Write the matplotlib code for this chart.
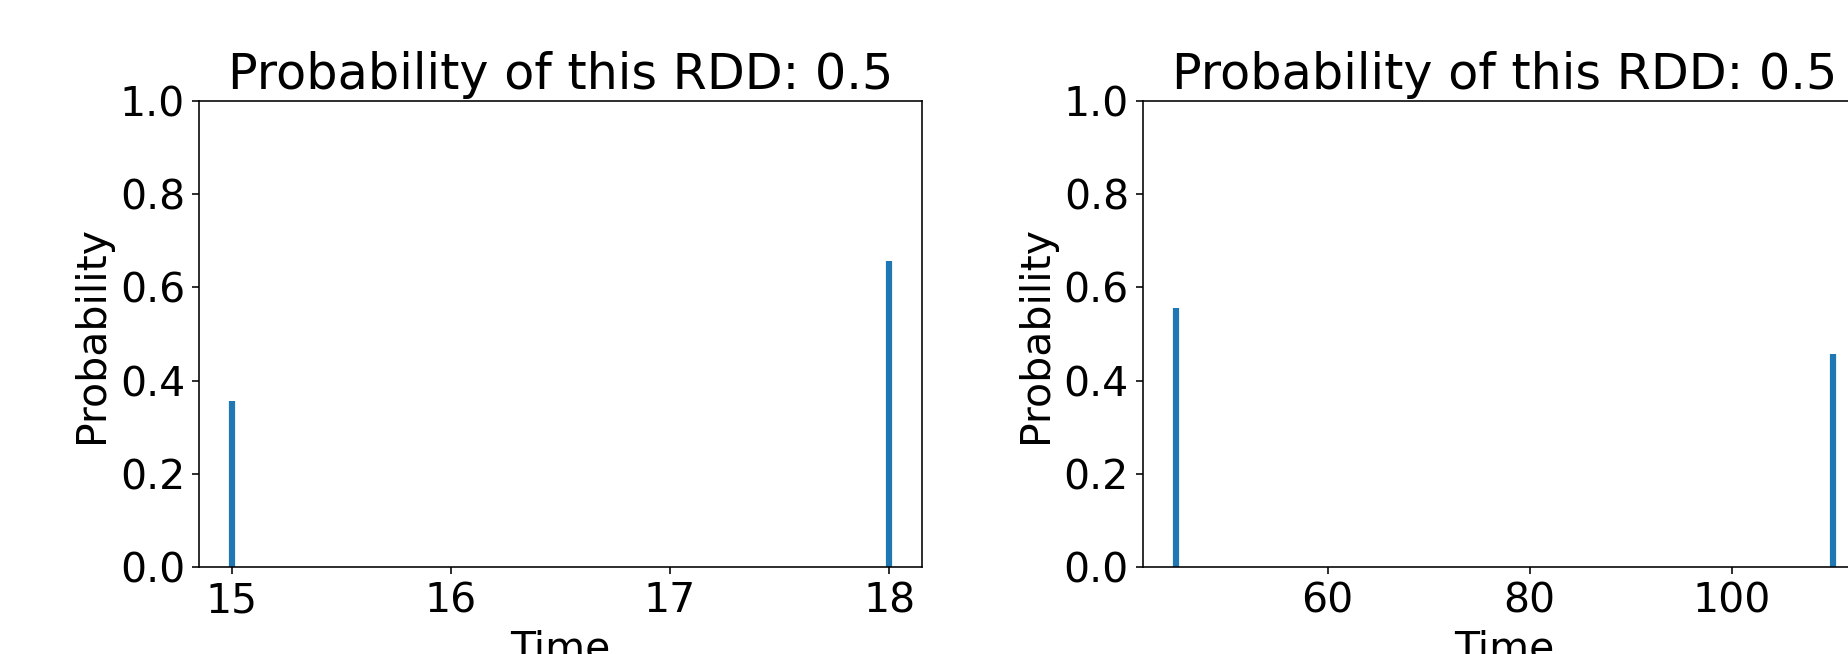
import matplotlib
matplotlib.use("Agg")
import matplotlib.pyplot as plt

# two RDDs, each a tiny distribution over event times
rdd_titles = [0.5, 0.5]
rdd1_times = [15, 18]
rdd1_probs = [0.357, 0.657]
rdd2_times = [45, 110]
rdd2_probs = [0.556, 0.458]

plt.rcParams.update({
    "font.family": ["DejaVu Sans"],
    "font.size": 20.5,
})

DPI = 144
fig = plt.figure(figsize=(1848 / DPI, 654 / DPI), dpi=DPI)

# axes laid out as in the original (right panel runs off the canvas)
ax1 = fig.add_axes([0.1077, 0.133, 0.3912, 0.7125])
ax2 = fig.add_axes([0.6185, 0.133, 0.3912, 0.7125])


def draw_rdd(ax, times, probs, title_p):
    # thin stems, one per time point
    ax.vlines(times, 0, probs, colors="#1f77b4", linewidth=3.1)
    ax.set_ylim(0, 1.0)
    ax.set_xlabel("Time")
    ax.set_ylabel("Probability")
    ax.set_title(f"Probability of this RDD: {title_p}")


draw_rdd(ax1, rdd1_times, rdd1_probs, rdd_titles[0])
draw_rdd(ax2, rdd2_times, rdd2_probs, rdd_titles[1])

fig.savefig("out.png", dpi=DPI)
